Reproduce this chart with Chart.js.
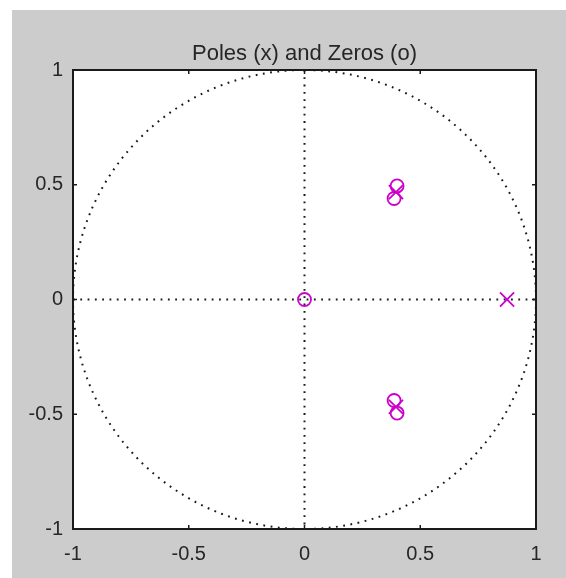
<!DOCTYPE html>
<html>
<head>
<meta charset="utf-8">
<script src="https://cdn.jsdelivr.net/npm/chart.js@4.4.1/dist/chart.umd.min.js"></script>
<style>
  html, body { margin: 0; padding: 0; background: #ffffff; }
  #zplane { position: absolute; left: 12px; top: 10px; background: #cccccc; }
</style>
</head>
<body>
<canvas id="zplane" width="554" height="568"></canvas>
<script>
const zeroRe = [0, 0.40, 0.387, 0.40, 0.387];
const zeroIm = [0, 0.495, 0.44, -0.495, -0.44];
const poleRe = [0.875, 0.395, 0.395];
const poleIm = [0, 0.468, -0.468];
const tickValues = [-1, -0.5, 0, 0.5, 1];
const tickLabels = ['-1', '-0.5', '0', '0.5', '1'];

const fontFamily = '"Liberation Sans", Arial, Helvetica, sans-serif';
const markerColor = '#cc00cc';
const inkColor = '#262626';

// unit circle, dotted axes, frame and inward ticks
const zplaneDecor = {
    id: 'zplaneDecor',
    beforeDraw(chart) {
        const { ctx, chartArea: a } = chart;
        ctx.save();
        ctx.fillStyle = '#ffffff';
        ctx.fillRect(a.left, a.top, a.width, a.height);
        ctx.restore();
    },
    beforeDatasetsDraw(chart) {
        const { ctx, chartArea: a, scales: { x, y } } = chart;
        const cx = x.getPixelForValue(0), cy = y.getPixelForValue(0);
        const rx = x.getPixelForValue(1) - cx, ry = cy - y.getPixelForValue(1);
        ctx.save();
        ctx.beginPath();
        ctx.rect(a.left, a.top, a.width, a.height);
        ctx.clip();
        ctx.strokeStyle = '#1a1a1a';
        ctx.lineWidth = 2;
        ctx.setLineDash([1.8, 5.5]);
        ctx.beginPath();
        ctx.ellipse(cx, cy, rx, ry, 0, 0, 2 * Math.PI);
        ctx.stroke();
        ctx.beginPath();
        ctx.moveTo(a.left, cy); ctx.lineTo(a.right, cy);
        ctx.stroke();
        ctx.beginPath();
        ctx.moveTo(cx, a.top); ctx.lineTo(cx, a.bottom);
        ctx.stroke();
        ctx.restore();
    },
    afterDraw(chart) {
        const { ctx, chartArea: a, scales: { x, y } } = chart;
        ctx.save();
        ctx.strokeStyle = '#1a1a1a';
        ctx.lineWidth = 1.5;
        const len = 4;
        ctx.beginPath();
        tickValues.slice(1, -1).forEach(v => {
            const px = x.getPixelForValue(v), py = y.getPixelForValue(v);
            ctx.moveTo(px, a.bottom); ctx.lineTo(px, a.bottom - len);
            ctx.moveTo(px, a.top); ctx.lineTo(px, a.top + len);
            ctx.moveTo(a.left, py); ctx.lineTo(a.left + len, py);
            ctx.moveTo(a.right, py); ctx.lineTo(a.right - len, py);
        });
        ctx.stroke();
        ctx.lineWidth = 2;
        ctx.strokeRect(a.left, a.top, a.width, a.height);
        ctx.restore();
    }
};

function axisTicks(padding) {
    return {
        padding: padding,
        color: inkColor,
        font: { family: fontFamily, size: 20 },
        autoSkip: false,
        maxRotation: 0,
        callback: (value, i) => tickLabels[i]
    };
}

new Chart(document.getElementById('zplane'), {
    type: 'scatter',
    data: {
        datasets: [{
            label: 'Zeros',
            data: zeroRe.map((re, i) => ({ x: re, y: zeroIm[i] })),
            pointStyle: 'circle',
            pointRadius: 6.5,
            borderColor: markerColor,
            backgroundColor: 'rgba(0,0,0,0)',
            borderWidth: 1.8
        }, {
            label: 'Poles',
            data: poleRe.map((re, i) => ({ x: re, y: poleIm[i] })),
            pointStyle: 'crossRot',
            pointRadius: 10,
            borderColor: markerColor,
            backgroundColor: markerColor,
            borderWidth: 1.8
        }]
    },
    options: {
        responsive: false,
        animation: false,
        layout: { padding: { top: 0, left: 0, right: 30, bottom: 0 } },
        plugins: {
            legend: { display: false },
            tooltip: { enabled: false },
            title: {
                display: true,
                text: 'Poles (x) and Zeros (o)',
                fullSize: false,
                color: inkColor,
                font: { family: fontFamily, size: 22, weight: 'normal' },
                padding: { top: 31, bottom: 2.6 }
            }
        },
        scales: {
            x: {
                type: 'linear',
                min: -1, max: 1,
                afterBuildTicks: s => { s.ticks = tickValues.map(v => ({ value: v })); },
                afterFit: s => { s.height = 49; },
                grid: { display: false, drawTicks: false },
                border: { display: false },
                ticks: axisTicks(13)
            },
            y: {
                type: 'linear',
                min: -1, max: 1,
                afterBuildTicks: s => { s.ticks = tickValues.map(v => ({ value: v })); },
                afterFit: s => { s.width = 61; },
                grid: { display: false, drawTicks: false },
                border: { display: false },
                ticks: axisTicks(10)
            }
        }
    },
    plugins: [zplaneDecor]
});
</script>
</body>
</html>
